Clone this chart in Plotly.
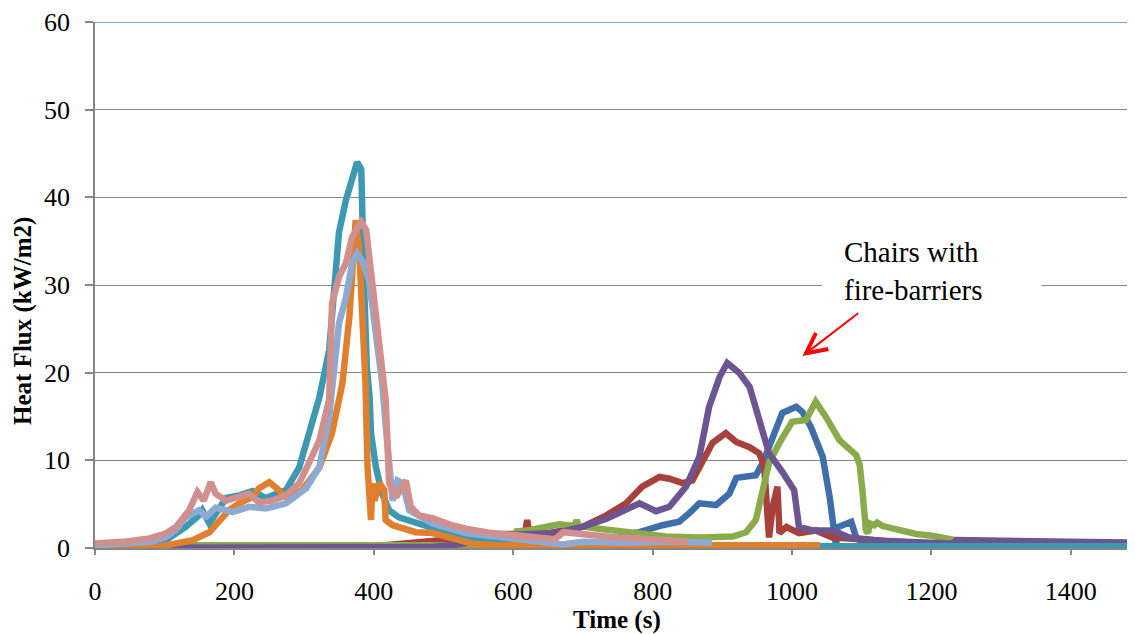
import plotly.graph_objects as go

# time (s) and heat flux (kW/m2) per series
blue_t = [0, 300, 580, 700, 740, 771, 781, 814, 838, 853, 867, 891, 910, 920, 948, 958, 972, 986, 1006, 1015,
          1027, 1044, 1054, 1061, 1063, 1066, 1075, 1085, 1092, 1100, 1110, 1200, 1300, 1400, 1500]
blue_y = [0.1, 0.1, 0.1, 0.3, 0.9, 1.7, 1.8, 2.6, 3.0, 4.0, 5.1, 4.9, 6.2, 8.0, 8.3, 9.7, 12.7, 15.4, 16.1, 15.5,
          13.8, 10.4, 5.8, 2.4, 0.3, 2.4, 2.6, 3.0, 1.2, 0.6, 0.5, 0.4, 0.3, 0.3, 0.3]

red_t = [0, 400, 540, 560, 600, 617, 620, 623, 650, 699, 733, 762, 785, 810, 824, 843, 857, 872, 886, 905,
         920, 939, 953, 960, 963, 967, 972, 979, 982, 992, 1010, 1034, 1058, 1100, 1150, 1200, 1210]
red_y = [0.1, 0.2, 1.2, 1.6, 1.6, 1.8, 3.2, 1.8, 1.7, 2.4, 3.7, 5.1, 7.0, 8.1, 7.9, 7.4, 7.7, 10.0, 12.0, 13.1,
         12.1, 11.5, 10.8, 9.3, 4.7, 1.2, 4.6, 7.0, 1.7, 2.4, 1.7, 2.0, 1.2, 1.0, 0.8, 0.5, 0.3]

green_t = [0, 300, 600, 605, 620, 666, 688, 691, 694, 723, 771, 819, 867, 915, 934, 948, 958, 967, 982, 1000,
           1020, 1034, 1049, 1068, 1092, 1097, 1101, 1106, 1109, 1112, 1118, 1122, 1130, 1154, 1178, 1201, 1226,
           1240, 1245, 1500]
green_y = [0.3, 0.3, 0.3, 1.9, 2.0, 2.7, 2.5, 3.2, 2.5, 2.2, 1.7, 1.3, 1.2, 1.3, 1.8, 3.2, 6.6, 9.7, 12.0, 14.4,
           14.6, 16.7, 14.9, 12.3, 10.6, 9.5, 6.5, 2.0, 1.7, 2.8, 2.6, 2.9, 2.5, 2.0, 1.6, 1.4, 1.0,
           0.8, 0.2, 0.2]

purple_t = [0, 480, 520, 560, 600, 660, 699, 733, 762, 781, 805, 824, 848, 867, 881, 896, 907, 924, 939, 953,
            967, 986, 1003, 1010, 1029, 1058, 1082, 1130, 1180, 1230, 1236, 1300, 1400, 1500]
purple_y = [0.0, 0.1, 0.4, 1.0, 1.5, 1.7, 2.4, 3.3, 4.4, 5.1, 4.2, 4.7, 7.0, 10.4, 16.1, 19.5, 21.1, 20.0, 18.4, 14.6,
            10.8, 8.7, 6.6, 2.4, 2.0, 2.0, 1.2, 0.8, 0.6, 0.5, 0.9, 0.8, 0.7, 0.6]

teal_t = [0, 50, 80, 102, 130, 149, 154, 164, 178, 188, 207, 226, 245, 274, 293, 307, 317, 322, 336, 343,
          350, 360, 369, 376, 382, 383, 386, 390, 394, 396, 403, 412, 422, 436, 465, 508, 556, 580, 650, 800,
          1000, 1200, 1500]
teal_y = [0.1, 0.2, 0.4, 0.9, 2.4, 3.7, 4.3, 2.8, 4.7, 5.7, 6.0, 6.5, 5.7, 6.6, 9.2, 13.1, 16.1, 17.2, 22.6, 30.0,
          36.0, 39.7, 42.4, 44.0, 43.2, 37.8, 30.2, 20.6, 17.2, 13.1, 9.2, 6.2, 4.3, 3.5, 2.8, 1.7, 0.9, 0.6, 0.3, 0.2,
          0.2, 0.2, 0.2]

orange_t = [0, 82, 102, 140, 164, 178, 192, 207, 226, 235, 250, 261, 274, 297, 322, 340, 350, 355, 365, 374,
            379, 384, 388, 391, 393, 396, 398, 401, 408, 415, 417, 427, 460, 484, 513, 541, 580, 700, 900, 1040]
orange_y = [0.05, 0.1, 0.3, 0.9, 1.8, 3.2, 4.3, 5.1, 5.8, 6.8, 7.5, 6.8, 5.8, 6.6, 9.2, 13.1, 16.9, 18.8, 26.4, 37.4,
            34.0, 26.4, 18.8, 9.2, 5.4, 3.2, 7.4, 5.4, 7.4, 6.6, 3.2, 2.6, 1.8, 1.7, 1.1, 0.5, 0.3, 0.3, 0.3, 0.3]

ltblue_t = [0, 80, 100, 115, 130, 149, 160, 173, 197, 221, 245, 274, 303, 322, 336, 343, 350, 360, 369, 376,
            383, 393, 403, 412, 417, 422, 427, 434, 441, 451, 484, 532, 580, 620, 670, 700, 760, 820, 885]
ltblue_y = [0.3, 0.7, 1.2, 2.0, 3.5, 4.3, 3.6, 4.6, 4.1, 4.7, 4.5, 5.1, 6.8, 9.3, 15.0, 20.0, 25.6, 28.6, 32.5, 33.6,
            32.8, 30.6, 24.9, 18.8, 14.0, 10.0, 5.4, 7.7, 7.4, 4.3, 2.8, 1.7, 1.2, 0.8, 0.4, 0.7, 0.6, 0.7, 0.6]

pink_t = [0, 40, 78, 100, 116, 135, 147, 156, 166, 173, 188, 207, 221, 235, 254, 274, 293, 307, 322, 336,
          340, 350, 360, 369, 382, 389, 398, 408, 415, 417, 422, 432, 446, 453, 465, 484, 512, 532, 570, 620,
          660, 672, 700, 747, 819, 851]
pink_y = [0.5, 0.7, 1.1, 1.6, 2.4, 4.3, 6.4, 5.4, 7.5, 6.2, 5.4, 5.8, 6.2, 5.2, 5.4, 6.0, 7.4, 9.7, 12.3, 17.0,
          27.9, 30.9, 32.5, 35.5, 37.2, 36.3, 30.2, 22.6, 17.2, 16.9, 7.4, 5.8, 7.7, 4.7, 3.7, 3.4, 2.6, 2.2, 1.7, 1.3,
          1.0, 1.8, 1.6, 1.2, 0.9, 0.7]

series = [
    (blue_t, blue_y, "#3f6faa"),
    (red_t, red_y, "#a8403c"),
    (green_t, green_y, "#8aab4b"),
    (purple_t, purple_y, "#6d5592"),
    (teal_t, teal_y, "#3c99b1"),
    (orange_t, orange_y, "#e0802f"),
    (ltblue_t, ltblue_y, "#8eaad2"),
    (pink_t, pink_y, "#d18f8e"),
]

SERIF = '"Liberation Serif", "Times New Roman", Tinos, "DejaVu Serif", serif'
GRID = "#868686"

fig = go.Figure()
for t, y, c in series:
    fig.add_trace(go.Scatter(x=t, y=y, mode="lines", line=dict(color=c, width=6.5), showlegend=False))

# the page body has an 8px margin, so the figure is 8px smaller and margins shifted
fig.update_layout(
    width=1127, height=626,
    margin=dict(l=87, r=0, t=14, b=86),
    paper_bgcolor="white", plot_bgcolor="white",
    font=dict(family=SERIF, size=25, color="black"),
)
fig.update_xaxes(range=[0, 1492], tickvals=[0, 200, 400, 600, 800, 1000, 1200, 1400], automargin=False,
                 showgrid=False, zeroline=False, showline=True, linecolor=GRID, linewidth=1.5,
                 ticks="outside", ticklen=5, tickcolor=GRID, tickwidth=1.5, ticklabelstandoff=14,
                 tickfont=dict(family=SERIF, size=26, color="black"))
fig.update_yaxes(range=[0, 60], dtick=10, showgrid=True, gridcolor=GRID, gridwidth=1.3, automargin=False,
                 zeroline=False, showline=True, linecolor=GRID, linewidth=1.5,
                 ticks="outside", ticklen=8, tickcolor=GRID, tickwidth=1.5, ticklabelstandoff=10,
                 tickfont=dict(family=SERIF, size=26, color="black"))

# blue top border at 60
fig.add_shape(type="line", xref="paper", yref="y", x0=0, x1=1, y0=60, y1=60,
              line=dict(color="#4a7ebb", width=1.5))
# white box behind the note
fig.add_shape(type="rect", xref="x", yref="y", x0=1043, x1=1358, y0=28, y1=35,
              fillcolor="white", line=dict(width=0), layer="between")

fig.add_annotation(x=1072, y=31.6, xref="x", yref="y", text="Chairs with<br>fire-barriers",
                   showarrow=False, xanchor="left", yanchor="middle", align="left",
                   font=dict(family=SERIF, size=29, color="black"))
fig.add_annotation(x=1015, y=21.9, ax=1097, ay=26.9, xref="x", yref="y", axref="x", ayref="y",
                   text="", showarrow=True, arrowhead=5, arrowsize=2, arrowwidth=2, arrowcolor="#ff0000")

fig.add_annotation(x=-0.0692, y=0.4316, xref="paper", yref="paper", text="<b>Heat Flux (kW/m2)</b>",
                   textangle=-90, showarrow=False, xanchor="center", yanchor="middle",
                   font=dict(family=SERIF, size=25, color="black"))
fig.add_annotation(x=0.502, y=-0.1369, xref="paper", yref="paper", text="<b>Time (s)</b>",
                   showarrow=False, xanchor="center", yanchor="middle",
                   font=dict(family=SERIF, size=25, color="black"))

fig.write_html("out.html")
